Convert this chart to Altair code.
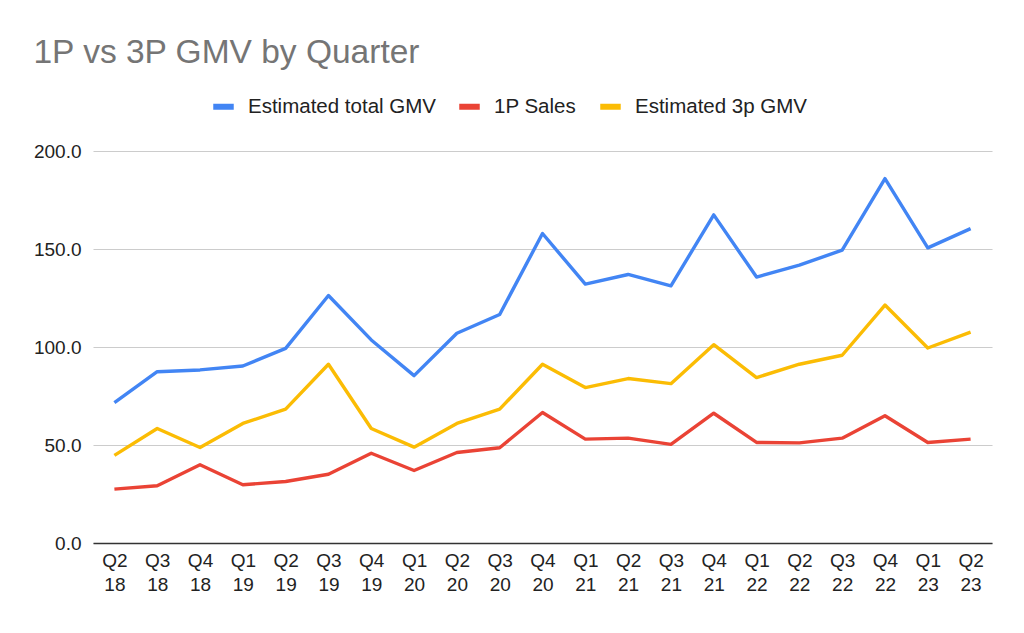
import altair as alt
import pandas as pd

quarters = ["Q2 18", "Q3 18", "Q4 18", "Q1 19", "Q2 19", "Q3 19", "Q4 19",
            "Q1 20", "Q2 20", "Q3 20", "Q4 20", "Q1 21", "Q2 21", "Q3 21",
            "Q4 21", "Q1 22", "Q2 22", "Q3 22", "Q4 22", "Q1 23", "Q2 23"]

total_gmv = [71.6, 87.4, 88.3, 90.3, 99.3, 126.3, 103.6, 85.4, 107.0, 116.6, 157.9,
             132.1, 137.0, 131.2, 167.4, 135.7, 141.8, 149.4, 185.9, 150.6, 160.4]
sales_1p = [27.5, 29.2, 39.9, 29.7, 31.4, 35.1, 45.8, 37.0, 46.2, 48.6, 66.6,
            53.0, 53.5, 50.3, 66.2, 51.3, 51.1, 53.5, 64.9, 51.3, 53.0]
gmv_3p = [44.7, 58.4, 48.7, 61.0, 68.3, 91.2, 58.4, 48.9, 61.0, 68.3, 91.2,
          79.3, 83.9, 81.3, 101.2, 84.4, 91.2, 95.8, 121.4, 99.5, 107.6]

series_names = ["Estimated total GMV", "1P Sales", "Estimated 3p GMV"]
series_colors = ["#4285F4", "#EA4335", "#FBBC04"]

rows = []
for name, vals in zip(series_names, [total_gmv, sales_1p, gmv_3p]):
    for q, v in zip(quarters, vals):
        rows.append({"Quarter": q, "Series": name, "Value": v})
df = pd.DataFrame(rows)

FONT = "Liberation Sans"

chart = alt.Chart(df).mark_line(strokeWidth=3.4, strokeJoin="round").encode(
    x=alt.X("Quarter:N", sort=quarters,
            scale=alt.Scale(type="point", padding=0.5),
            axis=alt.Axis(title=None, labelAngle=0, ticks=False, grid=False,
                          domainColor="#333333", domainWidth=1.5,
                          labelExpr="split(datum.label, ' ')",
                          labelFontSize=19, labelLineHeight=24, labelPadding=8,
                          labelColor="#222222", labelFont=FONT)),
    y=alt.Y("Value:Q", scale=alt.Scale(domain=[0, 200], nice=False),
            axis=alt.Axis(title=None, values=[0, 50, 100, 150, 200], format=".1f",
                          ticks=False, domain=False, gridColor="#cccccc",
                          gridWidth=1.2, labelFontSize=19, labelPadding=12,
                          labelColor="#222222", labelFont=FONT)),
    color=alt.Color("Series:N", sort=series_names,
                    scale=alt.Scale(domain=series_names, range=series_colors),
                    legend=alt.Legend(title=None, orient="none", direction="horizontal",
                                      legendX=117, legendY=-58,
                                      symbolType="stroke", symbolStrokeWidth=6,
                                      symbolSize=420, labelFontSize=20.5,
                                      labelFont=FONT, labelColor="#222222",
                                      labelLimit=400,
                                      labelOffset=11, columnPadding=11)),
).properties(
    width=899,
    height=392,
    autosize=alt.AutoSizeParams(type="none"),
    padding={"left": 85, "top": 143, "right": 24, "bottom": 82},
    title=alt.TitleParams("1P vs 3P GMV by Quarter", anchor="start", dx=0,
                          offset=23, fontSize=33.5, font=FONT, fontWeight="normal",
                          color="#757575"),
).configure_view(stroke=None)

chart.save("out.html", embed_options={"renderer": "svg", "actions": False})
